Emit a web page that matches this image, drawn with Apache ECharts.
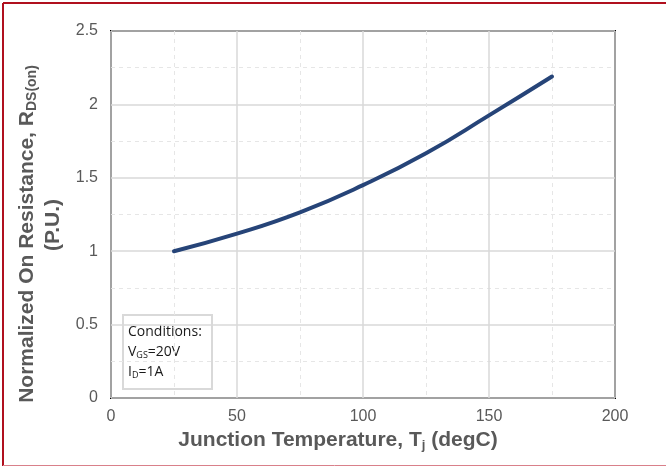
<!DOCTYPE html>
<html><head><meta charset="utf-8">
<script src="https://cdn.jsdelivr.net/npm/echarts@6/dist/echarts.min.js"></script>
<style>html,body{margin:0;padding:0;background:#fff}#c{width:666px;height:466px}</style>
</head><body><div id="c"></div>
<script>
const temps = [25, 50, 75, 100, 125, 150, 175];
const resistance = [1.0, 1.12, 1.265, 1.45, 1.667, 1.925, 2.19];
const xTicks = [0, 50, 100, 150, 200];
const yTicks = [0, 0.5, 1, 1.5, 2, 2.5];
const xTitle = 'Junction Temperature, T';
const yTitle1 = 'Normalized On Resistance, R';
const yTitle2 = '(P.U.)';
const condLines = ['Conditions:', ['V', 'GS', '=20V'], ['I', 'D', '=1A']];

const chart = echarts.init(document.getElementById('c'), null, {renderer: 'canvas'});
const labelColor = '#595959';
const font = 'Liberation Sans, Arial, sans-serif';
chart.setOption({
  animation: false,
  grid: {left: 111, right: 51, top: 31, bottom: 68, show: true, borderColor: '#000', borderWidth: 2, backgroundColor: 'transparent'},
  xAxis: {
    type: 'value', min: 0, max: 200, interval: 50,
    axisLine: {show: false}, axisTick: {show: false},
    axisLabel: {color: labelColor, fontSize: 16, fontFamily: font, margin: 11},
    splitLine: {show: true, lineStyle: {color: '#d9d9d9', width: 1.5}},
    minorTick: {show: false, splitNumber: 2},
    minorSplitLine: {show: true, lineStyle: {color: '#e6e6e6', type: [4, 4], width: 1}}
  },
  yAxis: {
    type: 'value', min: 0, max: 2.5, interval: 0.5,
    axisLine: {show: false}, axisTick: {show: false},
    axisLabel: {color: labelColor, fontSize: 16, fontFamily: font, margin: 13},
    splitLine: {show: true, lineStyle: {color: '#d9d9d9', width: 1.5}},
    minorTick: {show: false, splitNumber: 2},
    minorSplitLine: {show: true, lineStyle: {color: '#e6e6e6', type: [4, 4], width: 1}}
  },
  series: [{
    type: 'line', data: temps.map((t, i) => [t, resistance[i]]),
    smooth: 0.5, showSymbol: false, symbol: 'none',
    lineStyle: {color: '#264478', width: 4, cap: 'round'}
  }],
  graphic: [
    {type: 'line', shape: {x1: 3, y1: 3, x2: 666, y2: 3}, style: {stroke: '#b0101e', lineWidth: 2}},
    {type: 'line', shape: {x1: 3, y1: 3, x2: 3, y2: 466}, style: {stroke: '#b0101e', lineWidth: 2}},
    {type: 'line', shape: {x1: 3, y1: 465.5, x2: 666, y2: 465.5}, style: {stroke: '#d9808a', lineWidth: 1}},
    {type: 'text', x: 338, y: 440, style: {
      text: '{m|' + xTitle + '}{s|j}{m| (degC)}',
      align: 'center', verticalAlign: 'middle',
      rich: {m: {fontSize: 21, fontWeight: 'bold', fill: labelColor, fontFamily: font},
             s: {fontSize: 13, fontWeight: 'bold', fill: labelColor, fontFamily: font, padding: [11, 0, 0, 0]}}
    }},
    {type: 'text', x: 27, y: 234, rotation: Math.PI / 2, style: {
      text: '{m|' + yTitle1 + '}{s|DS(on)}',
      align: 'center', verticalAlign: 'middle',
      rich: {m: {fontSize: 21, fontWeight: 'bold', fill: labelColor, fontFamily: font},
             s: {fontSize: 14, fontWeight: 'bold', fill: labelColor, fontFamily: font, padding: [11, 0, 0, 0]}}
    }},
    {type: 'text', x: 53, y: 225, rotation: Math.PI / 2, style: {
      text: yTitle2, align: 'center', verticalAlign: 'middle',
      fontSize: 21, fontWeight: 'bold', fill: labelColor, fontFamily: font
    }},
    {type: 'rect', shape: {x: 123, y: 315, width: 89, height: 74}, style: {fill: '#fff', stroke: '#d9d9d9', lineWidth: 2}},
    {type: 'text', x: 128, y: 322, style: {
      text: '{m|' + condLines[0] + '}\n{m|' + condLines[1][0] + '}{s|' + condLines[1][1] + '}{m|' + condLines[1][2] + '}\n{m|' + condLines[2][0] + '}{s|' + condLines[2][1] + '}{m|' + condLines[2][2] + '}',
      fontSize: 14, fill: '#1a1a1a', fontFamily: 'Open Sans, sans-serif', lineHeight: 20,
      rich: {m: {fontSize: 14, fill: '#1a1a1a', fontFamily: 'Open Sans, sans-serif', lineHeight: 20},
             s: {fontSize: 9, fill: '#1a1a1a', fontFamily: 'Open Sans, sans-serif', lineHeight: 20, padding: [6, 0, 0, 0]}}
    }}
  ]
});
</script></body></html>
